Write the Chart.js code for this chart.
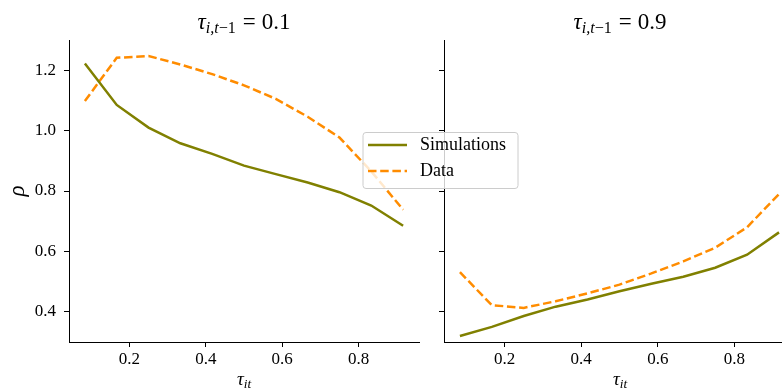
<!DOCTYPE html>
<html>
<head>
<meta charset="utf-8">
<script src="https://cdn.jsdelivr.net/npm/chart.js@4/dist/chart.umd.min.js"></script>
<style>
  body { margin: 0; background: #fff; }
  #wrap { position: relative; width: 782px; height: 390px; }
  #wrap canvas { position: absolute; left: 0; top: 0; }
</style>
</head>
<body>
<div id="wrap">
  <canvas id="left" width="782" height="390"></canvas>
  <canvas id="right" width="782" height="390"></canvas>
</div>
<script>
// tau_it grid (x values)
const tauIt = [0.0833, 0.1667, 0.25, 0.3333, 0.4167, 0.5, 0.5833, 0.6667, 0.75, 0.8333, 0.9167];

// tau_{i,t-1} = 0.1
const simLow = [1.222, 1.085, 1.010, 0.958, 0.923, 0.884, 0.856, 0.828, 0.796, 0.752, 0.685];
const dataLow = [1.098, 1.241, 1.247, 1.219, 1.187, 1.150, 1.105, 1.046, 0.977, 0.865, 0.738];

// tau_{i,t-1} = 0.9
const simHigh = [0.320, 0.350, 0.386, 0.417, 0.441, 0.468, 0.493, 0.516, 0.546, 0.589, 0.663];
const dataHigh = [0.531, 0.422, 0.413, 0.435, 0.461, 0.490, 0.527, 0.567, 0.612, 0.680, 0.790];

const xTicks = [0.2, 0.4, 0.6, 0.8];
const yTicks = [0.4, 0.6, 0.8, 1.0, 1.2];
const seriesNames = ['Simulations', 'Data'];

const SERIF = '"Liberation Serif", "DejaVu Serif", serif';
const olive = '#808000';
const orange = '#ff8c00';
const dash = [8.5, 3.7];

const toPoints = (ys) => tauIt.map((x, i) => ({ x, y: ys[i] }));

// draw a tiny bit of math-ish text: parts can be italic, subscript or a plain gap
function drawMath(ctx, parts, cx, y, size) {
  const fontOf = (p) => `${p.it ? 'italic ' : ''}${p.sub ? size * 0.7 : size}px ${SERIF}`;
  let w = 0;
  parts.forEach((p) => {
    if (p.gap) { p.w = p.gap; } else { ctx.font = fontOf(p); p.w = ctx.measureText(p.t).width; }
    w += p.w;
  });
  let x = cx - w / 2;
  ctx.textAlign = 'left';
  ctx.textBaseline = 'alphabetic';
  ctx.fillStyle = '#000';
  parts.forEach((p) => {
    if (!p.gap) {
      ctx.font = fontOf(p);
      ctx.fillText(p.t, x, p.sub ? y + size * 0.18 : y);
    }
    x += p.w;
  });
}

function drawLegend(ctx) {
  const x0 = 363, y0 = 132.5, w = 155, h = 56, r = 3;
  ctx.save();
  ctx.beginPath();
  ctx.moveTo(x0 + r, y0);
  ctx.arcTo(x0 + w, y0, x0 + w, y0 + h, r);
  ctx.arcTo(x0 + w, y0 + h, x0, y0 + h, r);
  ctx.arcTo(x0, y0 + h, x0, y0, r);
  ctx.arcTo(x0, y0, x0 + w, y0, r);
  ctx.closePath();
  ctx.fillStyle = 'rgba(255,255,255,0.8)';
  ctx.fill();
  ctx.strokeStyle = '#cccccc';
  ctx.lineWidth = 1;
  ctx.stroke();

  const rows = [
    { label: seriesNames[0], color: olive, dash: [], y: 145 },
    { label: seriesNames[1], color: orange, dash, y: 171 },
  ];
  rows.forEach((row) => {
    ctx.beginPath();
    ctx.setLineDash(row.dash);
    ctx.strokeStyle = row.color;
    ctx.lineWidth = 2.5;
    ctx.moveTo(368, row.y);
    ctx.lineTo(407, row.y);
    ctx.stroke();
    ctx.setLineDash([]);
    ctx.fillStyle = '#000';
    ctx.font = `18px ${SERIF}`;
    ctx.textAlign = 'left';
    ctx.textBaseline = 'middle';
    ctx.fillText(row.label, 420, row.y);
  });
  ctx.restore();
}

const labelsPlugin = {
  id: 'mathLabels',
  afterDraw(chart, args, opts) {
    const ctx = chart.ctx;
    ctx.save();
    drawMath(ctx, [
      { t: 'τ', it: true },
      { t: 'i,t', it: true, sub: true },
      { t: '−1', sub: true },
      { gap: 7 },
      { t: '=' },
      { gap: 6 },
      { t: opts.lag },
    ], opts.center, 29, 23);
    drawMath(ctx, [
      { t: 'τ', it: true },
      { t: 'it', it: true, sub: true },
    ], opts.center, 385, 19);
    if (opts.ylabel) {
      ctx.translate(18, 191);
      ctx.rotate(-Math.PI / 2);
      ctx.font = `italic 23px ${SERIF}`;
      ctx.fillStyle = '#000';
      ctx.textAlign = 'center';
      ctx.textBaseline = 'middle';
      ctx.fillText('ρ', 0, 0);
      ctx.setTransform(1, 0, 0, 1, 0, 0);
    }
    if (opts.legend) drawLegend(ctx);
    ctx.restore();
  },
};

const makePanel = (dom, sim, dat, cfg) => new Chart(dom, {
  type: 'line',
  data: {
    datasets: [
      { label: seriesNames[0], data: toPoints(sim), borderColor: olive, borderWidth: 2.5 },
      { label: seriesNames[1], data: toPoints(dat), borderColor: orange, borderWidth: 2.5, borderDash: dash },
    ],
  },
  options: {
    responsive: false,
    animation: false,
    layout: { padding: { left: 0, right: cfg.padRight, top: 40, bottom: 0 } },
    elements: { point: { radius: 0 }, line: { tension: 0 } },
    scales: {
      x: {
        type: 'linear',
        min: 0.0417,
        max: cfg.xMax,
        afterBuildTicks(scale) { scale.ticks = xTicks.map((v) => ({ value: v })); },
        afterFit(scale) { scale.height = 48; },
        ticks: {
          callback: (v) => v.toFixed(1),
          font: { family: SERIF, size: 17 },
          color: '#000',
          padding: 2,
          maxRotation: 0,
          autoSkip: false,
        },
        grid: { drawOnChartArea: false, drawTicks: true, tickLength: 5, tickColor: '#000', tickWidth: 1 },
        border: { display: true, color: '#000', width: 1 },
      },
      y: {
        min: 0.3,
        max: 1.3,
        afterBuildTicks(scale) { scale.ticks = yTicks.map((v) => ({ value: v })); },
        afterFit(scale) { scale.width = cfg.yWidth; },
        ticks: {
          callback: (v) => (cfg.yLabels ? v.toFixed(1) : ''),
          font: { family: SERIF, size: 17 },
          color: '#000',
          padding: 8,
          autoSkip: false,
        },
        grid: { drawOnChartArea: false, drawTicks: true, tickLength: 5, tickColor: '#000', tickWidth: 1 },
        border: { display: true, color: '#000', width: 1 },
      },
    },
    plugins: {
      legend: { display: false },
      tooltip: { enabled: false },
      mathLabels: cfg.labels,
    },
  },
  plugins: [labelsPlugin],
});

makePanel(document.getElementById('left'), simLow, dataLow, {
  padRight: 782 - 419, xMax: 0.9583, yWidth: 69, yLabels: true,
  labels: { lag: '0.1', center: 244, ylabel: true, legend: false },
});
makePanel(document.getElementById('right'), simHigh, dataHigh, {
  padRight: 0, xMax: 0.9245, yWidth: 444, yLabels: false,
  labels: { lag: '0.9', center: 620, ylabel: false, legend: true },
});
</script>
</body>
</html>
